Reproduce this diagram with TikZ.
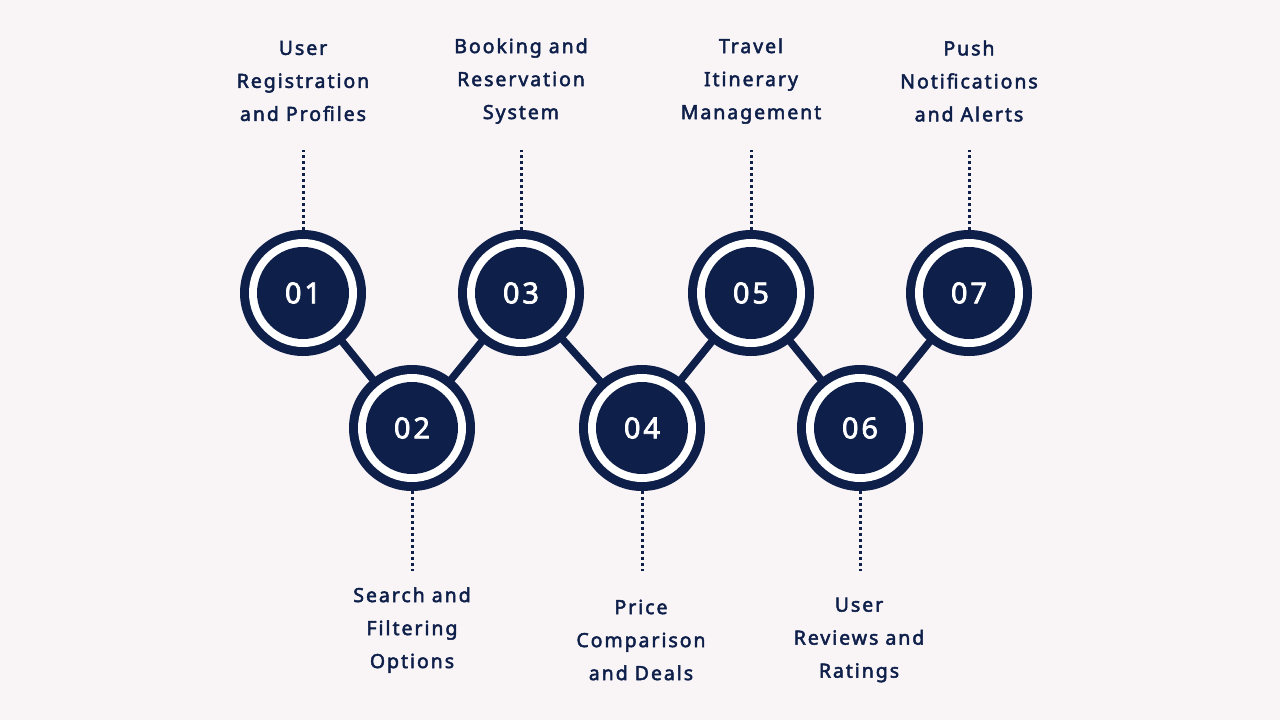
\documentclass[tikz,border=0pt]{standalone}
\usepackage{fontspec}
\usetikzlibrary{calc}
\setmainfont{Noto Sans}[LetterSpace=10,FakeBold=2.5]
\definecolor{navy}{HTML}{0E1F4A}
\definecolor{bg}{HTML}{F9F5F7}
\begin{document}
\begin{tikzpicture}[x=1pt,y=-1pt,
  lbl/.style={text=navy,font=\fontsize{19.5}{33}\selectfont,align=center},
  num/.style={text=white,font=\fontsize{29}{33}\selectfont},
  link/.style={navy,line width=7.5pt},
  dots/.style={navy,line width=3pt,dash pattern=on 3pt off 3pt}]
\fill[bg] (0,0) rectangle (1280,720);
\useasboundingbox (0,0) rectangle (1280,720);
\foreach \n/\x/\y in {1/303/293,2/412/428,3/521/293,4/642/428,5/751/293,6/860/428,7/969/293}
  \coordinate (c\n) at (\x,\y);
\draw[link] (c1)--(c2)--(c3)--(c4)--(c5)--(c6)--(c7);
\foreach \n/\t in {1/01,2/02,3/03,4/04,5/05,6/06,7/07}{
  \fill[navy] (c\n) circle (63);
  \fill[white] (c\n) circle (54);
  \fill[navy] (c\n) circle (46);
  \node[num] (n\n) at (c\n) {\t};
}
\foreach \n in {1,3,5,7}{
  \coordinate (t\n) at ($(c\n)+(0,-63)$);
  \coordinate (u\n) at ($(c\n)+(0,-143)$);
  \draw[dots] (t\n)--(u\n);
}
\foreach \n in {2,4,6}{
  \coordinate (t\n) at ($(c\n)+(0,63)$);
  \coordinate (u\n) at ($(c\n)+(0,143)$);
  \draw[dots] (t\n)--(u\n);
}
\node[lbl] (l1) at (303,81) {User\\Registration\\and Profiles};
\node[lbl] (l3) at (521,81) {Booking and\\Reservation\\System};
\node[lbl] (l5) at (751,81) {Travel\\Itinerary\\Management};
\node[lbl] (l7) at (969,81) {Push\\Notifications\\and Alerts};
\node[lbl] (l2) at (412,630) {Search and\\Filtering\\Options};
\node[lbl] (l4) at (641,640) {Price\\Comparison\\and Deals};
\node[lbl] (l6) at (859,640) {User\\Reviews and\\Ratings};
\end{tikzpicture}
\end{document}
